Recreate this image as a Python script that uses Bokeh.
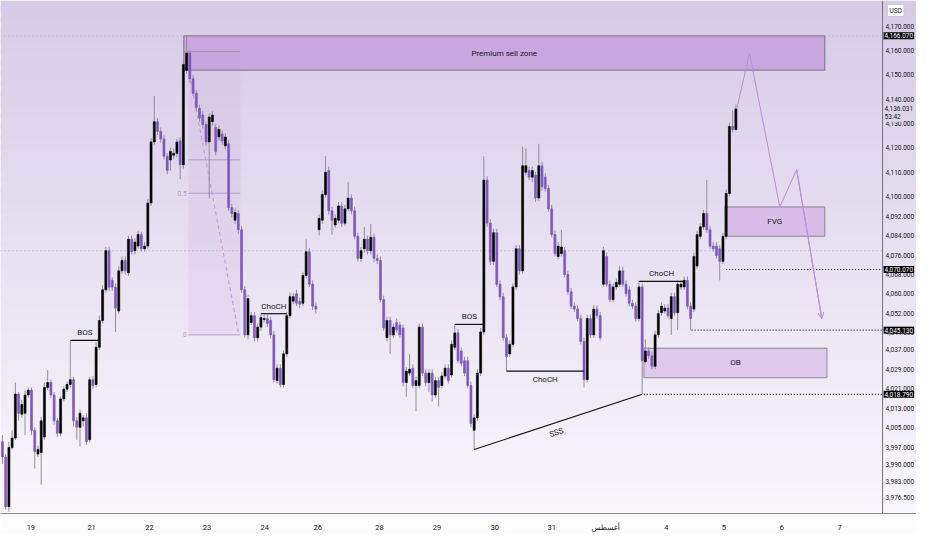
import numpy as np
from bokeh.plotting import figure
from bokeh.models import (Range1d, FixedTicker, CustomJSTickFormatter,
                          BoxAnnotation, Span, Label, Arrow, OpenHead, ColumnDataSource)
from bokeh.core.properties import value
from bokeh.embed import file_html
from bokeh.resources import INLINE

# ---------------- data ----------------
opens = [
    3999.3, 3993.0, 3972.6, 3996.9, 4000.8, 4018.9, 4010.6, 4011.0, 4018.5, 4020.5,
    4004.0, 3994.2, 3994.9, 4001.2, 4021.6, 4023.6, 4018.5, 4007.9, 4002.8, 4016.9,
    4020.9, 4022.8, 4024.8, 4007.9, 4005.2, 4007.9, 4009.1, 4000.1, 4024.8, 4022.8,
    4038.1, 4049.1, 4061.7, 4077.8, 4065.6, 4062.8, 4053.0, 4069.5, 4073.8, 4068.7,
    4082.5, 4077.8, 4079.7, 4084.4, 4078.6, 4079.7, 4097.4, 4122.5, 4130.8, 4126.8,
    4123.7, 4116.6, 4115.1, 4117.0, 4117.8, 4122.9, 4113.1, 4151.9, 4159.0, 4148.4,
    4142.5, 4136.2, 4133.5, 4129.6, 4122.5, 4130.8, 4128.4, 4124.5, 4125.7, 4120.9,
    4121.7, 4095.4, 4090.3, 4093.1, 4086.4, 4061.7, 4043.2, 4048.3, 4051.1, 4042.0,
    4046.4, 4049.5, 4049.9, 4049.1, 4043.2, 4024.4, 4029.5, 4022.8, 4035.4, 4051.1,
    4057.0, 4060.1, 4057.0, 4056.2, 4067.6, 4077.4, 4064.0, 4055.0, 4086.4, 4090.3,
    4100.9, 4110.7, 4094.2, 4088.4, 4090.3, 4096.2, 4089.1, 4095.0, 4099.4, 4094.2,
    4083.7, 4074.6, 4078.6, 4082.5, 4077.8, 4083.3, 4074.6, 4073.8, 4057.7, 4042.0,
    4049.1, 4043.2, 4048.3, 4047.2, 4046.0, 4023.6, 4027.5, 4029.5, 4022.4, 4022.4,
    4046.4, 4027.5, 4023.6, 4027.5, 4018.5, 4024.4, 4022.4, 4026.3, 4029.5, 4026.7,
    4038.1, 4044.0, 4036.6, 4032.6, 4032.6, 4022.4, 4004.0, 4009.1, 4027.5, 4044.4,
    4106.8, 4089.1, 4073.4, 4085.2, 4064.0, 4058.9, 4042.0, 4035.4, 4039.3, 4062.9,
    4078.6, 4069.5, 4110.0, 4110.7, 4108.0, 4108.8, 4099.4, 4112.7, 4108.0, 4103.3,
    4095.0, 4084.4, 4075.4, 4076.6, 4077.8, 4068.0, 4060.9, 4055.0, 4053.8, 4049.9,
    4040.5, 4024.8, 4049.9, 4043.2, 4053.8, 4051.1, 4064.0, 4075.4, 4064.0, 4057.7,
    4062.9, 4064.0, 4069.5, 4064.0, 4061.7, 4056.2, 4055.0, 4049.9, 4062.9, 4032.2,
    4036.6, 4034.6, 4030.3, 4043.2, 4052.3, 4053.0, 4054.2, 4049.9, 4058.9, 4052.3,
    4062.9, 4062.9, 4065.6, 4055.0, 4053.8, 4071.5, 4083.7, 4087.6, 4093.1, 4086.4,
    4079.7, 4079.7, 4078.6, 4073.4, 4083.7, 4101.3, 4128.8, 4127.6,
]
closes = [
    3993.0, 3972.6, 3996.9, 4000.8, 4018.9, 4011.0, 4014.6, 4018.5, 4020.5, 4004.0,
    3995.3, 3996.1, 4007.9, 4021.6, 4023.6, 4018.5, 4007.9, 4002.8, 4016.9, 4020.9,
    4022.8, 4024.8, 4007.9, 4005.2, 4011.0, 4009.1, 3999.3, 4024.8, 4022.4, 4038.1,
    4049.1, 4061.7, 4077.8, 4062.8, 4062.8, 4054.2, 4069.5, 4073.8, 4069.5, 4082.5,
    4077.4, 4081.3, 4084.4, 4078.6, 4079.7, 4097.4, 4122.5, 4130.8, 4126.8, 4123.7,
    4116.6, 4110.7, 4118.6, 4117.8, 4122.5, 4113.1, 4154.3, 4159.0, 4148.4, 4142.5,
    4136.6, 4132.3, 4129.6, 4122.5, 4132.7, 4133.5, 4118.6, 4127.6, 4122.9, 4124.5,
    4095.4, 4093.1, 4093.5, 4086.4, 4061.7, 4043.2, 4058.1, 4051.1, 4042.0, 4046.4,
    4050.3, 4049.9, 4047.9, 4043.2, 4024.8, 4029.5, 4022.8, 4035.4, 4051.1, 4058.9,
    4058.9, 4056.2, 4055.8, 4067.6, 4077.4, 4064.0, 4055.0, 4053.8, 4091.1, 4100.9,
    4110.0, 4094.2, 4090.3, 4091.1, 4096.2, 4089.1, 4095.0, 4099.4, 4094.2, 4083.7,
    4074.6, 4077.8, 4082.5, 4077.8, 4083.3, 4074.6, 4073.8, 4057.7, 4046.0, 4049.1,
    4043.2, 4046.4, 4045.2, 4043.2, 4023.6, 4028.3, 4029.1, 4022.4, 4024.4, 4046.4,
    4027.5, 4023.6, 4027.5, 4018.5, 4024.4, 4021.6, 4026.3, 4029.5, 4024.4, 4039.3,
    4044.0, 4032.6, 4031.5, 4027.5, 4022.4, 4006.7, 4009.1, 4027.5, 4044.4, 4106.8,
    4089.1, 4073.4, 4085.2, 4064.0, 4058.9, 4042.0, 4034.2, 4039.3, 4062.9, 4078.6,
    4069.5, 4112.7, 4112.7, 4108.0, 4110.7, 4099.4, 4112.7, 4104.1, 4103.3, 4095.0,
    4084.4, 4076.6, 4079.7, 4079.3, 4068.0, 4060.9, 4055.0, 4053.8, 4049.9, 4040.5,
    4024.8, 4049.9, 4043.2, 4053.8, 4051.1, 4042.0, 4077.8, 4064.0, 4057.7, 4062.9,
    4064.8, 4069.5, 4064.0, 4060.1, 4056.2, 4055.0, 4049.9, 4062.9, 4032.6, 4036.6,
    4034.6, 4030.3, 4043.2, 4051.9, 4055.0, 4054.2, 4051.1, 4058.9, 4052.3, 4064.0,
    4064.0, 4065.6, 4055.0, 4049.9, 4075.4, 4084.4, 4087.6, 4093.1, 4086.4, 4079.7,
    4078.6, 4075.8, 4073.4, 4083.7, 4101.3, 4128.8, 4127.6, 4136.031,
]
highs = [
    4002.0, 3994.2, 3999.3, 4004.0, 4023.6, 4019.7, 4016.5, 4020.5, 4021.6, 4021.6,
    4005.2, 3997.7, 4009.5, 4023.6, 4028.7, 4024.8, 4019.7, 4009.1, 4018.1, 4022.0,
    4024.0, 4040.9, 4026.0, 4009.5, 4012.6, 4010.3, 4011.0, 4026.0, 4026.3, 4040.1,
    4051.1, 4063.6, 4079.3, 4079.3, 4066.8, 4064.4, 4071.5, 4075.4, 4075.4, 4084.0,
    4084.0, 4082.9, 4086.0, 4085.6, 4081.3, 4099.0, 4124.1, 4141.4, 4132.3, 4128.4,
    4125.3, 4117.8, 4120.2, 4119.8, 4123.7, 4124.5, 4155.9, 4166.07, 4160.2, 4150.0,
    4143.7, 4137.8, 4135.1, 4130.8, 4134.3, 4135.1, 4130.0, 4129.2, 4127.2, 4126.0,
    4123.3, 4097.0, 4095.0, 4094.6, 4088.0, 4063.2, 4059.7, 4052.6, 4052.6, 4047.9,
    4051.9, 4051.5, 4051.5, 4050.7, 4044.8, 4031.1, 4031.1, 4036.9, 4052.6, 4060.5,
    4060.5, 4061.7, 4058.5, 4069.1, 4082.5, 4078.9, 4065.6, 4056.6, 4092.7, 4102.5,
    4116.6, 4112.3, 4095.8, 4092.7, 4097.8, 4097.8, 4096.6, 4106.0, 4100.9, 4095.8,
    4085.2, 4079.3, 4087.6, 4084.0, 4088.8, 4084.8, 4076.2, 4075.4, 4059.3, 4050.7,
    4050.7, 4047.9, 4049.9, 4048.7, 4047.5, 4029.9, 4035.4, 4031.1, 4026.0, 4047.9,
    4047.9, 4029.1, 4029.1, 4029.1, 4026.0, 4026.0, 4027.9, 4031.1, 4031.1, 4040.9,
    4047.5, 4045.6, 4038.1, 4034.2, 4034.2, 4024.0, 4010.6, 4029.1, 4046.0, 4116.6,
    4108.4, 4090.7, 4086.8, 4086.8, 4065.6, 4060.5, 4043.6, 4040.9, 4064.4, 4080.1,
    4080.1, 4120.5, 4119.8, 4112.3, 4112.3, 4110.3, 4121.7, 4114.3, 4109.6, 4104.8,
    4096.6, 4086.0, 4081.3, 4086.4, 4079.3, 4069.5, 4062.5, 4056.6, 4055.4, 4051.5,
    4042.0, 4051.5, 4051.5, 4055.4, 4055.4, 4052.6, 4079.3, 4077.0, 4065.6, 4064.4,
    4066.4, 4071.5, 4071.1, 4065.6, 4063.2, 4057.7, 4056.6, 4065.2, 4064.4, 4041.3,
    4038.1, 4036.2, 4044.8, 4053.4, 4056.6, 4055.8, 4055.8, 4060.5, 4060.5, 4065.6,
    4065.6, 4067.2, 4067.2, 4056.6, 4077.0, 4086.0, 4089.1, 4094.6, 4106.8, 4088.0,
    4081.3, 4081.3, 4080.1, 4085.2, 4102.9, 4130.4, 4135.5, 4137.8,
]
lows = [
    3990.2, 3971.4, 3970.6, 3996.1, 4000.0, 4007.9, 4009.1, 4002.0, 4017.3, 4002.0,
    3988.3, 3993.0, 3981.6, 4000.1, 4020.5, 4017.3, 4006.3, 4001.2, 4001.6, 4015.8,
    4019.7, 4021.6, 4005.5, 4000.1, 3997.3, 4005.5, 3998.1, 3998.9, 4020.9, 4021.6,
    4036.9, 4047.9, 4060.5, 4061.3, 4061.3, 4044.4, 4051.9, 4068.3, 4068.0, 4067.6,
    4076.2, 4076.2, 4078.6, 4077.4, 4077.4, 4078.6, 4096.2, 4121.3, 4125.3, 4122.1,
    4115.4, 4109.2, 4110.7, 4115.4, 4116.2, 4107.2, 4111.5, 4150.4, 4146.8, 4141.4,
    4135.1, 4130.8, 4128.0, 4120.9, 4099.4, 4129.2, 4117.0, 4122.9, 4121.3, 4119.4,
    4094.2, 4091.5, 4088.8, 4084.8, 4060.5, 4042.0, 4041.3, 4047.2, 4040.5, 4040.5,
    4044.8, 4048.3, 4046.4, 4041.7, 4023.6, 4023.2, 4021.6, 4021.6, 4034.2, 4049.9,
    4055.8, 4055.0, 4054.2, 4055.0, 4066.4, 4062.9, 4053.4, 4051.9, 4084.0, 4088.8,
    4099.7, 4092.7, 4084.4, 4087.2, 4089.1, 4087.6, 4088.0, 4093.9, 4092.7, 4082.5,
    4073.4, 4073.1, 4077.0, 4076.2, 4076.2, 4073.1, 4072.3, 4056.6, 4044.8, 4040.5,
    4035.4, 4042.0, 4044.0, 4042.0, 4022.0, 4017.7, 4026.3, 4021.2, 4011.8, 4021.2,
    4026.3, 4022.0, 4019.7, 4015.8, 4017.3, 4013.8, 4021.2, 4025.2, 4023.2, 4025.6,
    4036.9, 4031.5, 4030.3, 4026.3, 4021.2, 4005.2, 3996.1, 4007.9, 4026.3, 4043.2,
    4087.6, 4071.9, 4071.9, 4062.9, 4057.4, 4040.9, 4028.3, 4034.2, 4038.1, 4061.7,
    4068.0, 4068.3, 4108.8, 4106.8, 4106.0, 4097.8, 4098.2, 4102.5, 4102.1, 4093.9,
    4083.3, 4075.4, 4074.2, 4075.4, 4066.8, 4059.7, 4053.8, 4052.6, 4048.7, 4039.3,
    4021.6, 4023.6, 4042.0, 4042.0, 4049.9, 4040.9, 4062.9, 4062.9, 4056.6, 4056.6,
    4061.7, 4062.9, 4062.9, 4058.9, 4055.0, 4053.8, 4048.7, 4048.7, 4018.79, 4031.5,
    4033.4, 4029.1, 4029.1, 4042.0, 4051.1, 4051.9, 4049.9, 4043.2, 4051.1, 4045.2,
    4061.7, 4061.7, 4053.8, 4045.13, 4052.6, 4070.3, 4082.5, 4086.4, 4085.2, 4078.6,
    4077.4, 4074.6, 4065.6, 4072.3, 4082.5, 4100.1, 4126.4, 4127.2,
]

day_ticks = [8.8, 27.6, 45.5, 63.3, 81.2, 97.6, 116.7, 134.5, 152.4, 170.0,
             186.7, 205.5, 223.3, 241.2, 259.1]
day_labels = ["19", "21", "22", "23", "24", "26", "28", "29", "30", "31",
              "أغسطس", "4", "5", "6", "7"]
price_ticks = [4170, 4160, 4150, 4140, 4130, 4120, 4110, 4100, 4092, 4084, 4076,
               4068, 4060, 4052, 4044, 4037, 4029, 4021, 4013, 4005, 3997, 3990,
               3983, 3976.5]
level_prices = [4070.07, 4045.13, 4018.79]
level_starts = [224.0, 213.3, 198.5]
all_time_high = 4166.07
prev_close = 4077.8
last_price = 4136.031
countdown = "53:42"
currency = "USD"

premium_zone = (56.1, 254.5, 4166.07, 4151.9)
fvg_zone = (223.6, 254.5, 4095.8, 4083.7)
ob_zone = (198.5, 255.2, 4037.7, 4025.6)
fib_x = (57.6, 73.6)
fib_hi, fib_lo = 4159.6, 4043.2
fib_diag = ([57.9, 73.0], [4150.4, 4044.4])

structure = [  # (x0, x1, price, label, above)
    (21.0, 30.0, 4040.9, "BOS", True),
    (80.0, 88.0, 4051.9, "ChoCH", True),
    (140.0, 149.0, 4047.5, "BOS", True),
    (156.0, 180.0, 4028.3, "ChoCH", False),
    (197.0, 211.0, 4065.2, "ChoCH", True),
]
sss_x = [146.0, 198.0]
sss_y = [3996.1, 4018.79]
proj_x = [227.3, 231.2, 240.6, 245.8, 253.6]
proj_y = [4136.2, 4159.0, 4095.8, 4111.1, 4049.9]

# ---------------- figure ----------------
X0, XAX, X1 = -0.6, 272.4, 282.9     # chart start, price-scale line, canvas end
Y0, Y1 = 3969.8, 4180.6
FONT = "'Liberation Sans Narrow', 'Roboto', 'DejaVu Sans', sans-serif"
INK = "#131722"

p = figure(width=916, height=534, x_range=Range1d(X0, X1), y_range=Range1d(Y0, Y1),
           y_axis_location=None, output_backend="svg", toolbar_location=None,
           min_border_left=0, min_border_top=0, min_border_right=0, min_border_bottom=13)
p.outline_line_color = None
p.grid.visible = False
p.background_fill_color = "#f9f8fc"
p.border_fill_color = "#fdfdfe"

# vertical gradient background
top_rgb = np.array([214, 203, 230])
bot_rgb = np.array([249, 247, 252])
nb = 48
edges = np.linspace(Y0, Y1, nb + 1)
for i in range(nb):
    t = (i + 0.5) / nb
    c = bot_rgb + (top_rgb - bot_rgb) * t
    col = "#%02x%02x%02x" % tuple(int(round(v)) for v in c)
    p.add_layout(BoxAnnotation(bottom=edges[i], top=(edges[i + 1] + 2.0) if i < nb - 1 else None,
                               fill_color=col, fill_alpha=1, line_color=None, level="underlay"))

# faint dotted reference lines
for yv in (all_time_high, prev_close):
    p.segment(x0=[X0], x1=[XAX], y0=[yv], y1=[yv], line_color="#9a98a6", line_width=1,
              line_dash="1 3", line_alpha=0.8)

# zones
def zone(z, fill, lw=1.3):
    p.add_layout(BoxAnnotation(left=z[0], right=z[1], top=z[2], bottom=z[3], fill_color=fill,
                               fill_alpha=1, line_color="#111111", line_width=lw, level="underlay"))

zone(premium_zone, "#c9a6dd", 1.5)
zone(fvg_zone, "#d8bde8")
zone(ob_zone, "#dfcaee")

# fib retracement
p.add_layout(BoxAnnotation(left=fib_x[0], right=fib_x[1], top=fib_hi, bottom=fib_lo,
                           fill_color="#c8a0d8", fill_alpha=0.18, line_color=None, level="underlay"))
fib_levels = [fib_lo + (fib_hi - fib_lo) * r for r in (1.0, 0.618, 0.5, 0.0)]
p.segment(x0=[premium_zone[0], fib_x[0], fib_x[0], fib_x[0]], x1=[fib_x[1]] * 4,
          y0=fib_levels, y1=fib_levels,
          line_color=["#9e9aa8", "#b99ad6", "#b99ad6", "#b99ad6"], line_width=1)
p.line(fib_diag[0], fib_diag[1], line_color="#c79fd9", line_width=1.2, line_dash="4 3")
for r, txt in ((0.5, "0.5"), (0.0, "0")):
    p.add_layout(Label(x=fib_x[0], y=fib_lo + (fib_hi - fib_lo) * r, text=txt, x_offset=-2,
                       text_align="right", text_baseline="middle", text_font_size="6.5px",
                       text_font=FONT, text_color="#b39ad0"))

# candles
idx = np.arange(len(closes))
o = np.array(opens); c = np.array(closes)
h = np.maximum(np.array(highs), np.maximum(o, c))
l = np.minimum(np.array(lows), np.minimum(o, c))
up = c >= o
cols = np.where(up, "#000000", "#7e57c2")
src = ColumnDataSource(dict(x=idx, o=o, c=c, h=h, l=l, top=np.maximum(o, c),
                            bot=np.minimum(o, c), col=cols))
p.segment(x0="x", x1="x", y0="h", y1="l", source=src, line_color="#8f8f96", line_width=1)
p.vbar(x="x", width=0.62, top="top", bottom="bot", source=src, fill_color="col",
       line_color="col", line_width=0.6)

# structure lines
for x0, x1, yv, txt, above in structure:
    p.segment(x0=[x0], x1=[x1], y0=[yv], y1=[yv], line_color="#111111", line_width=1.2)
    p.add_layout(Label(x=(x0 + x1) / 2, y=yv, text=txt, y_offset=3 if above else -4,
                       text_align="center", text_baseline="bottom" if above else "top",
                       text_font_size="8px", text_font=FONT, text_color=INK))

p.line(sss_x, sss_y, line_color="#111111", line_width=1.1)
p.add_layout(Label(x=171.5, y=4003.0, text="SSS", angle=0.32, text_align="center",
                   text_baseline="middle", text_font_size="8px", text_font=FONT, text_color=INK))

# zone labels
for z, txt in ((premium_zone, "Premium sell zone"), (fvg_zone, "FVG"), (ob_zone, "OB")):
    p.add_layout(Label(x=(z[0] + z[1]) / 2, y=(z[2] + z[3]) / 2, text=txt, text_align="center",
                       text_baseline="middle", text_font_size="8px", text_font=FONT,
                       text_color=INK))

# key levels (dotted)
p.segment(x0=level_starts, x1=[XAX] * 3, y0=level_prices, y1=level_prices,
          line_color="#1a1a1a", line_width=1.2, line_dash="1 2")

# projection path
PC = "#b994dc"
p.line(proj_x, proj_y, line_color=PC, line_width=1.1)
p.add_layout(Arrow(end=OpenHead(size=6, line_color=PC, line_width=1.1),
                   x_start=proj_x[-2], y_start=proj_y[-2], x_end=proj_x[-1], y_end=proj_y[-1],
                   line_color=PC, line_width=1.1))

# price scale (right)
p.add_layout(Span(location=XAX, dimension="height", line_color="#6f7280", line_width=1))
p.text(x=[XAX] * len(price_ticks), y=price_ticks, text=[f"{v:,.3f}" for v in price_ticks],
       x_offset=3, text_align="left", text_baseline="middle", text_font=value(FONT),
       text_font_size="6.5px", text_color=INK)

for yv in [all_time_high] + level_prices:
    p.add_layout(Label(x=XAX, y=yv, x_offset=1, text=f"{yv:,.3f}", text_align="left",
                       text_baseline="middle", text_font_size="6.5px", text_font=FONT,
                       text_color="#ffffff", background_fill_color="#000000",
                       background_fill_alpha=1, padding=1))
p.add_layout(Label(x=XAX, y=last_price, x_offset=1, text=f"{last_price:,.3f}", text_align="left",
                   text_baseline="middle", text_font_size="6.5px", text_font=FONT,
                   text_color=INK, background_fill_color="#dcd6ea", background_fill_alpha=0.9,
                   padding=1))
p.add_layout(Label(x=XAX, y=last_price, x_offset=1, y_offset=-8, text=countdown, text_align="left",
                   text_baseline="middle", text_font_size="6.5px", text_font=FONT,
                   text_color=INK, background_fill_color="#dcd6ea", background_fill_alpha=0.9,
                   padding=1))
p.add_layout(Label(x=XAX, y=Y1, x_offset=5, y_offset=-4, text=currency, text_align="left",
                   text_baseline="top", text_font_size="6.5px", text_font=FONT,
                   text_color=INK, background_fill_color="#ffffff", background_fill_alpha=1,
                   border_line_color="#c9cbd3", padding=2))

# time axis
xax = p.xaxis[0]
xax.ticker = FixedTicker(ticks=day_ticks)
xax.formatter = CustomJSTickFormatter(args=dict(labs=day_labels),
                                      code="return labs[index] !== undefined ? labs[index] : '';")
xax.major_label_text_font_size = "7.5px"
xax.major_label_text_font = FONT
xax.major_label_text_color = INK
xax.major_tick_line_color = None
xax.minor_tick_line_color = None
xax.axis_line_color = "#8a8d96"
xax.major_label_standoff = 3

open("out.html", "w").write(file_html(p, INLINE))
